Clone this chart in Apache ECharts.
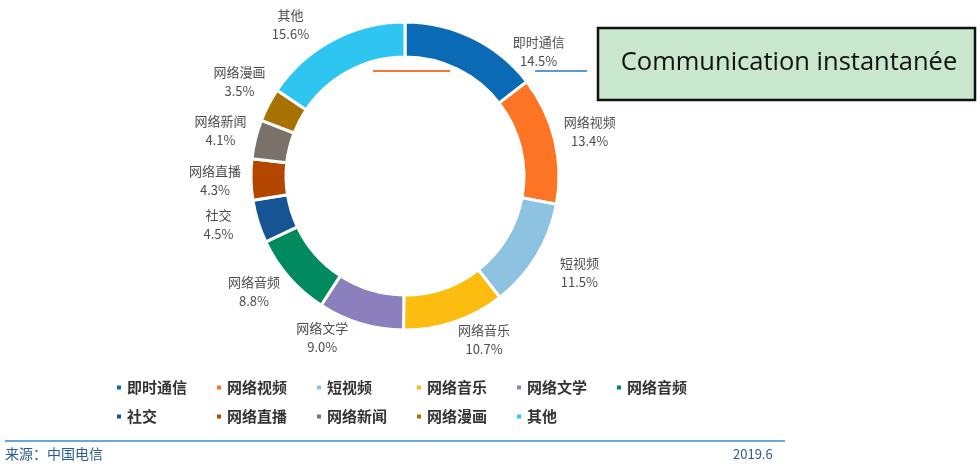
<!DOCTYPE html>
<html>
<head>
<meta charset="utf-8">
<title>网络应用流量占比</title>
<script src="https://cdn.jsdelivr.net/npm/echarts@6/dist/echarts.min.js"></script>
<style>
    html, body { margin: 0; padding: 0; background: #fff; }
    #main { width: 977px; height: 466px; }
</style>
</head>
<body>
<div id="main"></div>
<script>
// 各类应用占比 (%)
var names = ['即时通信', '网络视频', '短视频', '网络音乐', '网络文学', '网络音频', '社交', '网络直播', '网络新闻', '网络漫画', '其他'];
var shares = [14.5, 13.4, 11.5, 10.7, 9.0, 8.8, 4.5, 4.3, 4.1, 3.5, 15.6];
var colors = ['#0a6ab6', '#fd7424', '#8dc2e0', '#fdbd10', '#8c7fbd', '#008a5e', '#165494', '#b54600', '#7a716b', '#a77200', '#2ec6f0'];
var sourceText = '来源：中国电信';
var dateText = '2019.6';
var noteText = 'Communication instantanée';

(function(){
    var chart = echarts.init(document.getElementById('main'));

    var pieData = [];
    for (var i = 0; i < names.length; i++) {
        pieData.push({ name: names[i], value: shares[i] });
    }

    // 标签微调 (原图标签避开了顶部和底部)
    var nudge = {
        0: [50, 46],
        2: [12, -2],
        3: [18, -16],
        4: [-28, -20],
        5: [-8, -10],
        6: [-5, -8],
        9: [3, -7],
        10: [-25, 16]
    };

    var option = {
        color: colors,
        animation: false,
        legend: {
            left: 110,
            top: 374,
            width: 620,
            icon: 'rect',
            itemWidth: 6,
            itemHeight: 6,
            itemGap: 12,
            textStyle: {
                color: '#333',
                fontSize: 15,
                fontWeight: 'bold',
                fontFamily: 'Noto Sans CJK SC',
                width: 76,
                lineHeight: 17
            },
            data: names
        },
        series: [
            {
                type: 'pie',
                center: [405, 176],
                radius: [119, 154],
                startAngle: 90,
                avoidLabelOverlap: false,
                itemStyle: {
                    borderColor: '#fff',
                    borderWidth: 3
                },
                label: {
                    show: true,
                    position: 'outside',
                    formatter: function (p) {
                        return p.name + '\n' + p.value.toFixed(1) + '%';
                    },
                    color: '#4d4d4d',
                    fontSize: 13,
                    lineHeight: 19,
                    fontFamily: 'Noto Sans CJK SC',
                    distanceToLabelLine: 0
                },
                labelLine: {
                    show: false,
                    length: 36,
                    length2: 0
                },
                labelLayout: function (params) {
                    var n = nudge[params.dataIndex];
                    if (n) {
                        return { align: 'center', dx: n[0], dy: n[1] };
                    }
                    return { align: 'center' };
                },
                emphasis: { disabled: true },
                data: pieData
            }
        ],
        graphic: [
            {
                type: 'line',
                shape: { x1: 5, y1: 441, x2: 785, y2: 441 },
                style: { stroke: '#6fa3dc', lineWidth: 2 }
            },
            {
                type: 'text',
                left: 5,
                top: 447,
                style: { text: sourceText, fill: '#2b5c8f', fontSize: 14, fontFamily: 'Noto Sans CJK SC' }
            },
            {
                type: 'text',
                left: 733,
                top: 448,
                style: { text: dateText, fill: '#2b5c8f', fontSize: 13, fontFamily: 'Noto Sans CJK SC' }
            },
            {
                type: 'line',
                shape: { x1: 373, y1: 71, x2: 450, y2: 71 },
                style: { stroke: '#ed7d31', lineWidth: 2 }
            },
            {
                type: 'line',
                shape: { x1: 535, y1: 71, x2: 587, y2: 71 },
                style: { stroke: '#5b9bd5', lineWidth: 2 }
            },
            {
                type: 'rect',
                shape: { x: 598, y: 28, width: 377, height: 72 },
                style: { fill: '#c9e7cc', stroke: '#111', lineWidth: 2.5 }
            },
            {
                type: 'text',
                x: 789,
                y: 63,
                style: {
                    text: noteText,
                    fill: '#111',
                    fontSize: 25.5,
                    fontFamily: 'Open Sans',
                    align: 'center',
                    verticalAlign: 'middle'
                }
            }
        ]
    };

    chart.setOption(option);
})();
</script>
</body>
</html>
